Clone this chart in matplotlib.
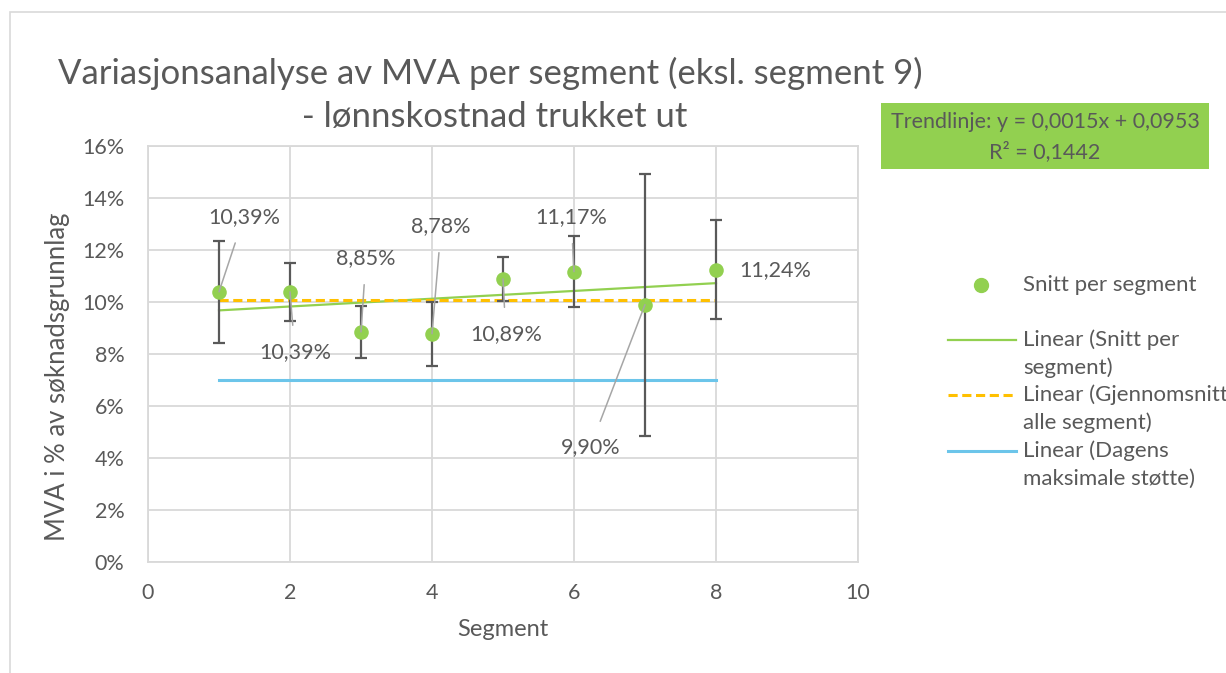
import matplotlib
matplotlib.use("Agg")
import matplotlib.pyplot as plt
from matplotlib.lines import Line2D
from matplotlib.patches import Rectangle
import numpy as np

plt.rcParams['font.family'] = ['Lato', 'DejaVu Sans']

# ---- data ----
segments = [1, 2, 3, 4, 5, 6, 7, 8]
snitt = [10.39, 10.39, 8.85, 8.78, 10.89, 11.17, 9.90, 11.24]          # %
err = [1.97, 1.12, 1.00, 1.23, 0.84, 1.35, 5.04, 1.91]                  # %
labels = ["10,39%", "10,39%", "8,85%", "8,78%", "10,89%", "11,17%", "9,90%", "11,24%"]
label_pos = [(1.35, 13.27), (2.07, 8.08), (3.07, 11.69), (4.13, 12.92),
             (5.04, 8.77), (5.96, 13.27), (6.23, 4.42), (8.83, 11.23)]
gjennomsnitt = [10.08] * 8
dagens_stotte = [7.0] * 8
y_ticks = [0, 2, 4, 6, 8, 10, 12, 14, 16]
x_ticks = [0, 2, 4, 6, 8, 10]

TXT = '#595959'
GRID = '#D9D9D9'
GREEN = '#92D050'
ORANGE = '#FFC000'
BLUE = '#6CC5EA'
FS = 15.5

W, H = 1226, 673
fig = plt.figure(figsize=(W / 100, H / 100), dpi=100)
fig.patch.set_facecolor('white')

# outer chart border
fig.add_artist(Rectangle((10 / W, -0.2), 1.2, 1.2 - 12 / H, transform=fig.transFigure,
                         fill=False, edgecolor=GRID, lw=1.2))

ax = fig.add_axes([148 / W, 1 - 562 / H, (858 - 148) / W, (562 - 146) / H])
ax.set_xlim(0, 10)
ax.set_ylim(0, 16)
ax.set_xticks(x_ticks)
ax.set_yticks(y_ticks)
ax.set_yticklabels([f"{v}%" for v in y_ticks])
ax.grid(True, color=GRID, lw=1.3)
ax.set_axisbelow(True)
for s in ax.spines.values():
    s.set_color(GRID)
    s.set_linewidth(1.3)
ax.tick_params(length=0, colors=TXT, labelsize=FS)
ax.tick_params(axis='y', pad=17)
ax.tick_params(axis='x', pad=15)

x = np.array(segments, dtype=float)
y = np.array(snitt)

# trend lines
k, m = np.polyfit(x, y, 1)
ax.plot(x, k * x + m, color=GREEN, lw=1.6, zorder=3)
ax.plot(x, gjennomsnitt, color=ORANGE, lw=2.2, ls=(0, (3, 1.5)), zorder=3)
ax.plot(x, dagens_stotte, color=BLUE, lw=2.2, zorder=3)

# error bars
ax.errorbar(x, y, yerr=err, fmt='none', ecolor='#595959', elinewidth=1.6,
            capsize=4.5, capthick=1.6, zorder=4)
ax.scatter(x, y, s=110, color=GREEN, zorder=5, linewidths=0)

# labels with leader lines
for i, (xi, yi) in enumerate(zip(x, y)):
    lx, ly = label_pos[i]
    if i == 7:
        ax.text(lx, ly, labels[i], ha='center', va='center', fontsize=FS, color=TXT, zorder=6)
    else:
        ax.annotate(labels[i], xy=(xi, yi), xytext=(lx, ly), ha='center', va='center',
                    fontsize=FS, color=TXT, zorder=6,
                    arrowprops=dict(arrowstyle='-', color='#A6A6A6', lw=1.1,
                                    shrinkA=10, shrinkB=0))

ax.set_xlabel("Segment", fontsize=17, color=TXT, labelpad=12)
ax.set_ylabel("MVA i % av søknadsgrunnlag", fontsize=18.5, color=TXT, va='center')
ax.yaxis.set_label_coords(-0.128, 0.445)

# title
fig.text(490 / W, 1 - 73 / H, "Variasjonsanalyse av MVA per segment (eksl. segment 9)",
         ha='center', va='center', fontsize=25, color=TXT)
fig.text(490 / W, 1 - 117 / H, " - lønnskostnad trukket ut",
         ha='center', va='center', fontsize=25, color=TXT)

# trendline equation box
fig.add_artist(Rectangle((881 / W, 1 - 169 / H), (1209 - 881) / W, (169 - 103) / H,
                         transform=fig.transFigure, facecolor=GREEN, edgecolor='none'))
fig.text(1045 / W, 1 - 122 / H, "Trendlinje: y = 0,0015x + 0,0953", ha='center', va='center',
         fontsize=15.5, color=TXT)
fig.text(1045 / W, 1 - 152 / H, "R² = 0,1442", ha='center', va='center',
         fontsize=15.5, color=TXT)

# legend (manual)
fig.add_artist(Line2D([981 / W], [1 - 285 / H], marker='o', markersize=10, color=GREEN,
                      lw=0, transform=fig.transFigure))
fig.text(1023 / W, 1 - 285 / H, "Snitt per segment", va='center', fontsize=16, color=TXT)
leg = [(340, GREEN, '-', "Linear (Snitt per", "segment)"),
       (395, ORANGE, (0, (3, 1.5)), "Linear (Gjennomsnitt", "alle segment)"),
       (451, BLUE, '-', "Linear (Dagens", "maksimale støtte)")]
for yy, c, ls, t1, t2 in leg:
    lw = 1.6 if c == GREEN else 2.2
    fig.add_artist(Line2D([948 / W, 1016 / W], [1 - yy / H, 1 - yy / H], color=c, ls=ls, lw=lw,
                          transform=fig.transFigure))
    fig.text(1023 / W, 1 - yy / H, t1, va='center', fontsize=16, color=TXT)
    fig.text(1023 / W, 1 - (yy + 28) / H, t2, va='center', fontsize=16, color=TXT)

fig.savefig("out.png", dpi=100)
